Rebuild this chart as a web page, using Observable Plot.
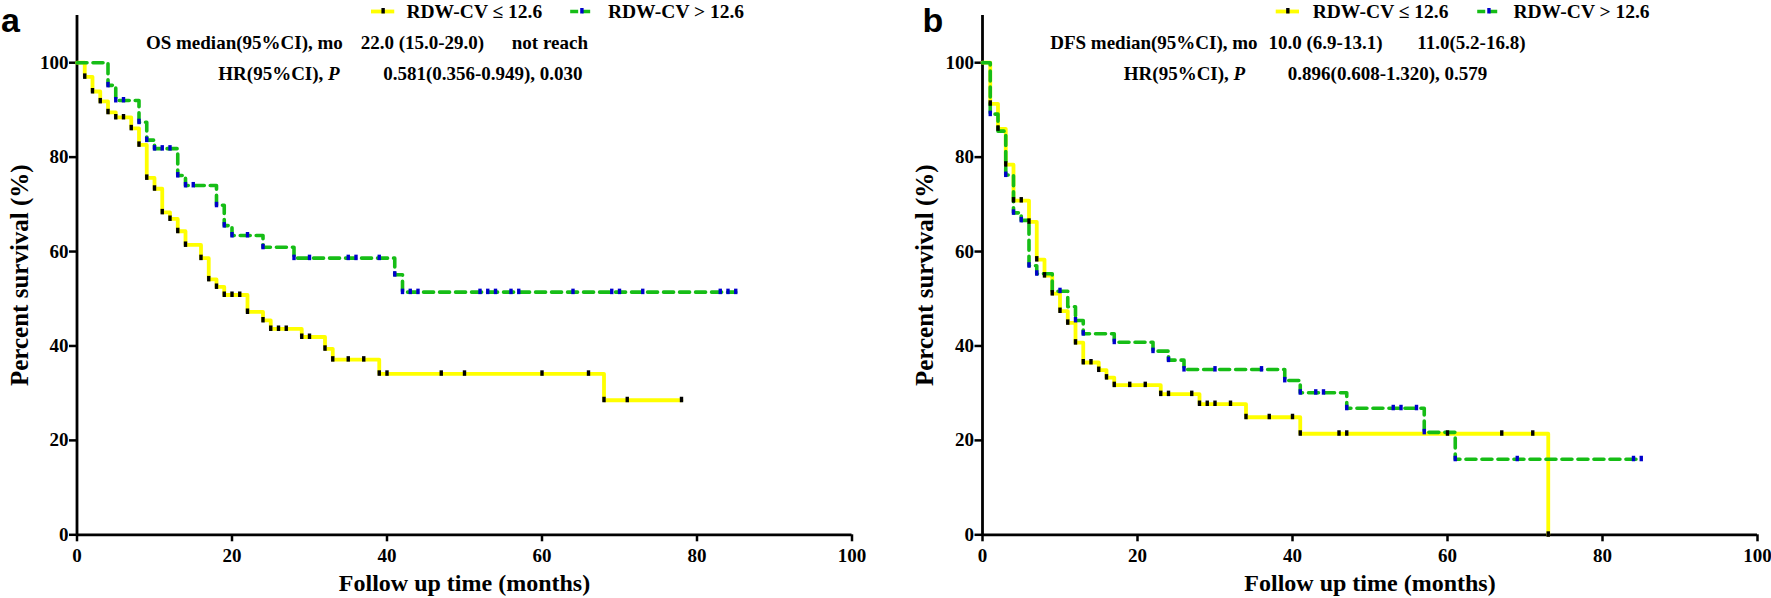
<!DOCTYPE html>
<html><head><meta charset="utf-8">
<script src="https://cdn.jsdelivr.net/npm/d3@7"></script>
<script src="https://cdn.jsdelivr.net/npm/@observablehq/plot@0.6"></script>
<style>
body{margin:0;background:#fff;}
#fig{position:relative;width:1771px;height:598px;overflow:hidden;background:#fff;}
#fig svg{position:absolute;top:0;}
</style></head><body><div id="fig"></div>
<script>
// ---- Data ----
const groupLabels = ["RDW-CV ≤ 12.6", "RDW-CV > 12.6"];
const xTicks = [0, 20, 40, 60, 80, 100];
const yTicks = [0, 20, 40, 60, 80, 100];

// Panel a: overall survival
const osLowTime = [0,1,2,3,4,5,7,8,9,10,11,12,13,14,16,17,18,19,22,24,25,29,32,33,39,68,78];
const osLowSurv = [100,97.0,93.9,91.8,89.5,88.4,86.1,82.6,75.6,73.3,68.3,66.9,64.3,61.4,58.6,54.1,52.5,50.8,47.2,45.4,43.6,41.9,39.4,37.1,34.1,28.5,28.5];
const osLowCens = [1,2,3,4,5,6,7,8,9,10,11,12,13,14,16,17,18,19,20,21,22,24,25,26,27,29,30,32,33,35,37,39,40,47,50,60,66,68,71,78];
const osHighTime = [0,4,5,8,9,10,13,14,18,19,20,24,28,41,42,85];
const osHighSurv = [100,95.2,92.0,87.4,83.6,81.8,76.1,74.0,69.8,65.5,63.4,60.9,58.6,55.1,51.4,51.4];
const osHighCens = [4,5,6,8,9,10,11,12,13,14,15,18,19,20,22,24,28,30,35,36,39,41,42,43,44,52,53,54,56,57,64,69,70,73,83,84,85];

// Panel b: disease-free survival
const dfsLowTime = [0,1,2,3,4,6,7,8,9,10,11,12,13,15,16,17,23,28,34,41,73];
const dfsLowSurv = [100,91.3,86.0,78.4,70.8,66.3,58.3,54.9,51.1,47.4,44.9,40.7,36.5,34.9,33.3,31.7,29.8,27.7,24.9,21.4,0];
const dfsLowCens = [1,2,3,4,5,6,7,8,9,10,11,12,13,14,15,16,17,19,21,23,24,27,28,29,30,32,34,37,40,41,46,47,60,67,71,73];
const dfsHighTime = [0,1,2,3,4,5,6,7,9,11,12,13,17,22,24,26,39,41,47,57,61,85];
const dfsHighSurv = [100,89.1,85.5,76.2,68.2,66.6,57.0,55.3,51.6,48.3,45.4,42.6,40.8,38.9,37.0,35.0,32.7,30.1,26.8,21.7,16.0,16.0];
const dfsHighCens = [1,3,4,5,6,7,10,12,13,17,22,24,26,30,36,39,41,43,44,47,53,54,56,57,61,69,84,85];

const osStats = ["OS median(95%CI), mo", "22.0 (15.0-29.0)", "not reach", "HR(95%CI), ", "P", "0.581(0.356-0.949), 0.030"];
const dfsStats = ["DFS median(95%CI), mo", "10.0 (6.9-13.1)", "11.0(5.2-16.8)", "HR(95%CI), ", "P", "0.896(0.608-1.320), 0.579"];

// ---- Styling ----
const YELLOW = "#ffff00", GREEN = "#16bd16", BLUE = "#0000cc";
const SERIF = "'Liberation Serif','Times New Roman',serif";
const tickSymbol = {draw(ctx){ ctx.moveTo(-1.7,-3.5); ctx.lineTo(1.7,-3.5); ctx.lineTo(1.7,2.0); ctx.lineTo(-1.7,2.0); ctx.closePath(); }};
const LEGY = 110.85;

function stepValue(times, surv, t){ const i = d3.bisectRight(times, t) - 1; return surv[Math.max(0, i)]; }
function series(times, surv){ return times.map((t,i)=>({t, s: surv[i]})); }

function panel(cfg){
  const low = series(cfg.lowTime, cfg.lowSurv), high = series(cfg.highTime, cfg.highSurv);
  const lowC = cfg.lowCens.map(t=>({t, s: stepValue(cfg.lowTime, cfg.lowSurv, t)}));
  const highC = cfg.highCens.map(t=>({t, s: stepValue(cfg.highTime, cfg.highSurv, t)}));
  const st = cfg.stats, L = cfg.leg;
  return Plot.plot({
    width: cfg.width, height: 598,
    marginLeft: cfg.ml, marginRight: cfg.mr, marginTop: 15, marginBottom: 63.7,
    style: {fontFamily: SERIF, fontWeight: "bold", fontSize: "19px", color: "#000", background: "transparent", overflow: "visible"},
    x: {domain: [0, 100]},
    y: {domain: [0, 110]},
    marks: [
      Plot.axisX(xTicks, {tickSize: 7, tickPadding: 7, fontSize: 19, strokeWidth: 2.5, label: null}),
      Plot.axisY(yTicks, {tickSize: 7.5, tickPadding: 1, fontSize: 19, strokeWidth: 2.5, label: null}),
      Plot.ruleY([0], {strokeWidth: 2.8, stroke: "#000"}),
      Plot.ruleX([0], {strokeWidth: 2.8, stroke: "#000"}),
      Plot.line(low, {x: "t", y: "s", curve: "step-after", stroke: YELLOW, strokeWidth: 3.8}),
      Plot.line(high, {x: "t", y: "s", curve: "step-after", stroke: GREEN, strokeWidth: 3.6, strokeDasharray: "10,6"}),
      Plot.dot(lowC, {x: "t", y: "s", symbol: tickSymbol, fill: "#000", r: 2}),
      Plot.dot(highC, {x: "t", y: "s", symbol: tickSymbol, fill: BLUE, r: 2}),
      // legend
      Plot.ruleY([LEGY], {x1: L[0], x2: L[1], stroke: YELLOW, strokeWidth: 3.8}),
      Plot.dot([{t: (L[0]+L[1])/2, s: LEGY}], {x: "t", y: "s", symbol: tickSymbol, fill: "#000", r: 2}),
      Plot.text([groupLabels[0]], {x: L[2], y: LEGY, textAnchor: "start", lineAnchor: "middle", fontSize: 19.5}),
      Plot.ruleY([LEGY], {x1: L[3], x2: L[4], stroke: GREEN, strokeWidth: 3.6, strokeDasharray: "8,4"}),
      Plot.dot([{t: (L[3]+L[4])/2, s: LEGY}], {x: "t", y: "s", symbol: tickSymbol, fill: BLUE, r: 2}),
      Plot.text([groupLabels[1]], {x: L[5], y: LEGY, textAnchor: "start", lineAnchor: "middle", fontSize: 19.5}),
      // statistics
      Plot.text([st[0]], {x: cfg.sx[0], y: 104.1, textAnchor: "end", lineAnchor: "middle"}),
      Plot.text([st[1]], {x: cfg.sx[1], y: 104.1, textAnchor: "start", lineAnchor: "middle"}),
      Plot.text([st[2]], {x: cfg.sx[2], y: 104.1, textAnchor: "start", lineAnchor: "middle"}),
      Plot.text([st[3]], {x: cfg.sx[3], y: 97.7, textAnchor: "end", lineAnchor: "middle"}),
      Plot.text([st[4]], {x: cfg.sx[3], y: 97.7, textAnchor: "start", lineAnchor: "middle", fontStyle: "italic"}),
      Plot.text([st[5]], {x: cfg.sx[4], y: 97.7, textAnchor: "start", lineAnchor: "middle"}),
      // axis titles & panel letter
      Plot.text(["Follow up time (months)"], {frameAnchor: "bottom", dy: 49, textAnchor: "middle", lineAnchor: "middle", fontSize: 24}),
      Plot.text(["Percent survival (%)"], {frameAnchor: "left", dx: -57.5, rotate: -90, textAnchor: "middle", lineAnchor: "middle", fontSize: 25}),
      Plot.text([cfg.letter], {frameAnchor: "top-left", dx: cfg.letterDx, dy: 6, textAnchor: "start", lineAnchor: "middle", fontSize: 34, fontFamily: "'Liberation Sans',Arial,sans-serif"})
    ]
  });
}

const fig = document.getElementById("fig");
const a = panel({width: 880, ml: 76.5, mr: 28.5, letter: "a", letterDx: -76,
  lowTime: osLowTime, lowSurv: osLowSurv, lowCens: osLowCens,
  highTime: osHighTime, highSurv: osHighSurv, highCens: osHighCens,
  stats: osStats, sx: [34.3, 36.6, 56.1, 32.4, 39.5], leg: [38.0, 41.0, 42.5, 63.7, 66.6, 68.5]});
a.style.left = "0px";
fig.appendChild(a);
const b = panel({width: 886, ml: 97, mr: 14, letter: "b", letterDx: -60,
  lowTime: dfsLowTime, lowSurv: dfsLowSurv, lowCens: dfsLowCens,
  highTime: dfsHighTime, highSurv: dfsHighSurv, highCens: dfsHighCens,
  stats: dfsStats, sx: [35.5, 36.9, 56.1, 32.4, 39.4], leg: [37.9, 40.9, 42.6, 63.9, 66.8, 68.5]});
b.style.left = "885px";
fig.appendChild(b);
</script>
</body></html>
